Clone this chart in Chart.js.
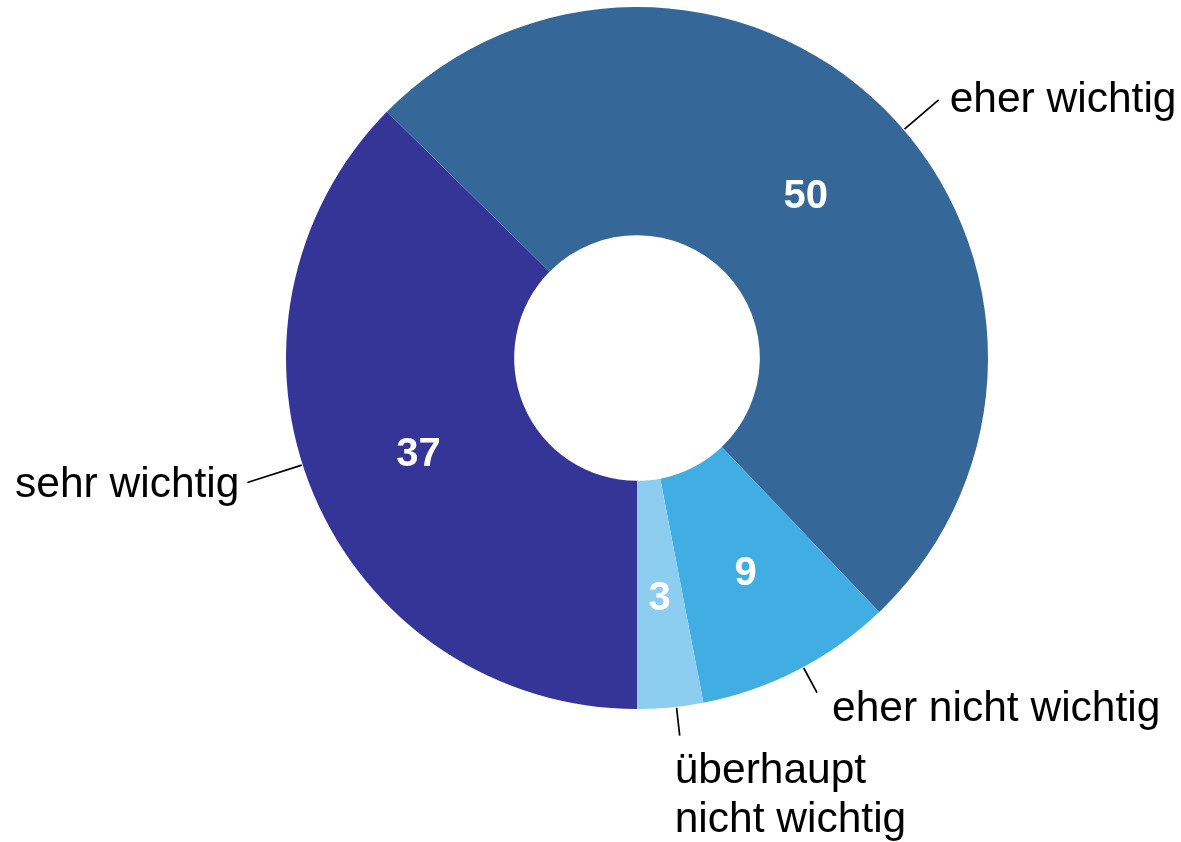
<!DOCTYPE html>
<html>
<head>
<meta charset="utf-8">
<script src="https://cdn.jsdelivr.net/npm/chart.js@4/dist/chart.umd.min.js"></script>
<style>
   body { margin: 0; background: #fff; }
   #wrap { width: 1181px; height: 842px; }
</style>
</head>
<body>
<div id="wrap"><canvas id="donutChart"></canvas></div>
<script>
// Data
const categories = ["sehr wichtig", "eher wichtig", "eher nicht wichtig", ["überhaupt", "nicht wichtig"]];
const values = [37, 50, 9, 3];
const colors = ["#353497", "#356899", "#41AEE3", "#8DCEF0"];

const FONT = "'Liberation Sans', Arial, Helvetica, sans-serif";

// where each outer label goes, relative to its slice
const labelPlacement = [
   { nudge: 5, len: 58, align: "right", dx: -8, dy: 14 },
   { nudge: 4, len: 46, align: "left", dx: 11, dy: 12 },
   { nudge: -1, len: 29, align: "left", dx: 15, dy: 28 },
   { nudge: -1, len: 29, align: "left", dx: -5, dy: 47 },
];

// Plugin to draw values inside the slices and labels with leader lines outside
const sliceLabels = {
   id: "sliceLabels",
   afterDatasetsDraw(chart) {
      const ctx = chart.ctx;
      const arcs = chart.getDatasetMeta(0).data;
      ctx.save();
      arcs.forEach((arc, i) => {
         // value in the middle of the slice
         const pos = arc.tooltipPosition();
         ctx.fillStyle = "#fff";
         ctx.font = "bold 40px " + FONT;
         ctx.textAlign = "center";
         ctx.textBaseline = "middle";
         ctx.fillText(values[i], pos.x, pos.y + 5);

         // leader line
         const p = labelPlacement[i];
         const mid = (arc.startAngle + arc.endAngle) / 2 + (p.nudge * Math.PI) / 180;
         const r0 = arc.outerRadius + 1;
         const r1 = arc.outerRadius + p.len;
         const x0 = arc.x + Math.cos(mid) * r0;
         const y0 = arc.y + Math.sin(mid) * r0;
         const x1 = arc.x + Math.cos(mid) * r1;
         const y1 = arc.y + Math.sin(mid) * r1;
         ctx.strokeStyle = "#000";
         ctx.lineWidth = 1.7;
         ctx.beginPath();
         ctx.moveTo(x0, y0);
         ctx.lineTo(x1, y1);
         ctx.stroke();

         // category text
         ctx.fillStyle = "#000";
         ctx.font = "42.5px " + FONT;
         ctx.textAlign = p.align;
         ctx.textBaseline = "alphabetic";
         const lines = Array.isArray(categories[i]) ? categories[i] : [categories[i]];
         lines.forEach((line, k) => {
            ctx.fillText(line, x1 + p.dx, y1 + p.dy + k * 49);
         });
      });
      ctx.restore();
   },
};

const ctx = document.getElementById("donutChart").getContext("2d");
new Chart(ctx, {
   type: "doughnut",
   data: {
      labels: categories.map((c) => (Array.isArray(c) ? c.join(" ") : c)),
      datasets: [
         {
            data: values,
            backgroundColor: colors,
            borderWidth: 0,
         },
      ],
   },
   options: {
      responsive: true,
      maintainAspectRatio: false,
      animation: false,
      rotation: 180,
      cutout: "35%",
      layout: {
         padding: { left: 285, right: 192, top: 7, bottom: 133 },
      },
      plugins: {
         legend: { display: false },
         tooltip: { enabled: false },
      },
   },
   plugins: [sliceLabels],
});
</script>
</body>
</html>
